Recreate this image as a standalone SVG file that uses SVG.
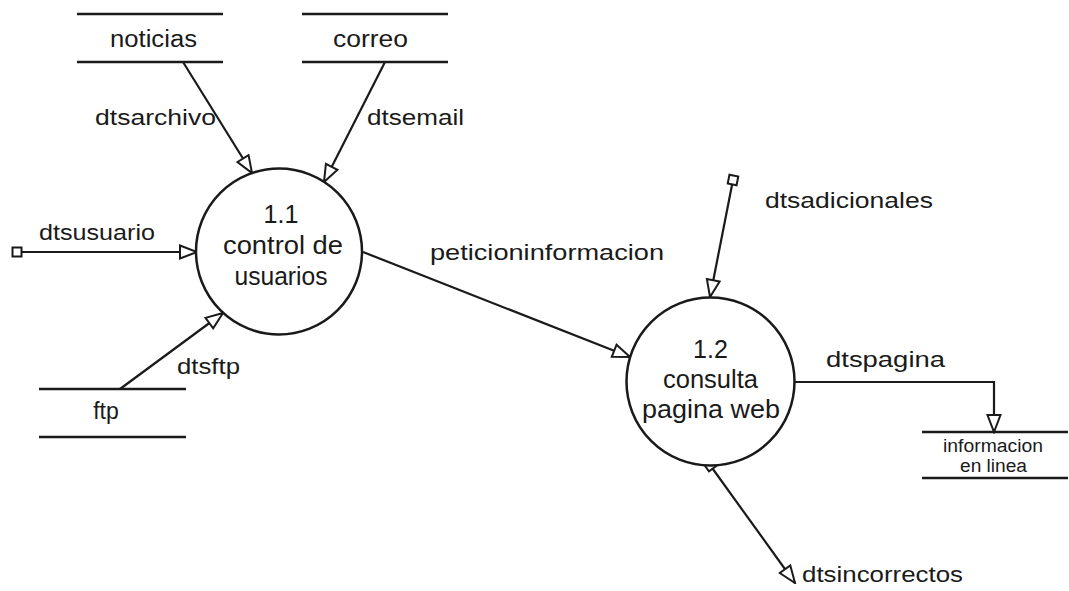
<svg xmlns="http://www.w3.org/2000/svg" width="1069" height="591" viewBox="0 0 1069 591">
<style>
text{font-family:"Liberation Sans",Arial,sans-serif;fill:#1a1a1a}
.lbl{font-size:22px}
.proc{font-size:25px;text-anchor:middle}
.st{font-size:23px;text-anchor:middle}
.sm{font-size:18px;text-anchor:middle}
.flow{fill:none;stroke:#1a1a1a;stroke-width:2.2}
.bub{fill:#fff;stroke:#1a1a1a;stroke-width:2.5}
.store{stroke:#1a1a1a;stroke-width:2.6}
</style>
<defs>
<marker id="arr" viewBox="0 0 20 16" refX="18.5" refY="8" markerWidth="20" markerHeight="16" markerUnits="userSpaceOnUse" orient="auto">
<path d="M1.5,1.5 L18.5,8 L1.5,14.5 Z" fill="#fff" stroke="#1a1a1a" stroke-width="2"/>
</marker>
<marker id="sq" viewBox="0 0 12 12" refX="6" refY="6" markerWidth="12" markerHeight="12" markerUnits="userSpaceOnUse" orient="auto">
<rect x="1.5" y="1.5" width="9" height="9" fill="#fff" stroke="#1a1a1a" stroke-width="2"/>
</marker>
</defs>
<rect width="1069" height="591" fill="#fff"/>

<g id="connectors">
<line class="flow" x1="183" y1="62" x2="252" y2="173" marker-end="url(#arr)"/>
<line class="flow" x1="385" y1="62" x2="324" y2="182" marker-end="url(#arr)"/>
<line class="flow" x1="17" y1="252" x2="197" y2="252" marker-start="url(#sq)" marker-end="url(#arr)"/>
<line class="flow" x1="120" y1="389" x2="223" y2="313" marker-end="url(#arr)"/>
<line class="flow" x1="363" y1="252" x2="630" y2="357" marker-end="url(#arr)"/>
<line class="flow" x1="733" y1="180" x2="710" y2="297" marker-start="url(#sq)" marker-end="url(#arr)"/>
<polyline class="flow" points="794,382 994,382 994,432" marker-end="url(#arr)"/>
<line class="flow" x1="710" y1="465" x2="795" y2="583" marker-start="url(#sq)" marker-end="url(#arr)"/>
<text class="lbl" x="95" y="125" textLength="121" lengthAdjust="spacingAndGlyphs">dtsarchivo</text>
<text class="lbl" x="367" y="125" textLength="97" lengthAdjust="spacingAndGlyphs">dtsemail</text>
<text class="lbl" x="39" y="240" textLength="116" lengthAdjust="spacingAndGlyphs">dtsusuario</text>
<text class="lbl" x="177" y="374" textLength="63" lengthAdjust="spacingAndGlyphs">dtsftp</text>
<text class="lbl" x="430" y="260" textLength="234" lengthAdjust="spacingAndGlyphs">peticioninformacion</text>
<text class="lbl" x="765" y="208" textLength="168" lengthAdjust="spacingAndGlyphs">dtsadicionales</text>
<text class="lbl" x="826" y="367" textLength="119" lengthAdjust="spacingAndGlyphs">dtspagina</text>
<text class="lbl" x="802" y="582" textLength="161" lengthAdjust="spacingAndGlyphs">dtsincorrectos</text>
</g>

<g id="store-noticias">
<line class="store" x1="77" y1="14" x2="223" y2="14"/>
<line class="store" x1="77" y1="62" x2="223" y2="62"/>
<text class="st" x="153.5" y="47" textLength="87" lengthAdjust="spacingAndGlyphs">noticias</text>
</g>
<g id="store-correo">
<line class="store" x1="302" y1="14" x2="448" y2="14"/>
<line class="store" x1="302" y1="62" x2="448" y2="62"/>
<text class="st" x="370.5" y="47" textLength="75" lengthAdjust="spacingAndGlyphs">correo</text>
</g>
<g id="store-ftp">
<line class="store" x1="39" y1="389" x2="186" y2="389"/>
<line class="store" x1="39" y1="437" x2="186" y2="437"/>
<text class="st" x="106" y="419">ftp</text>
</g>
<g id="store-informacion">
<line class="store" x1="922" y1="432" x2="1068" y2="432"/>
<line class="store" x1="922" y1="478" x2="1068" y2="478"/>
<text class="sm" x="993" y="452" textLength="100" lengthAdjust="spacingAndGlyphs">informacion</text>
<text class="sm" x="993.5" y="472" textLength="67" lengthAdjust="spacingAndGlyphs">en linea</text>
</g>

<g id="proc-1-1">
<circle class="bub" cx="279" cy="251.5" r="83"/>
<text class="proc" x="281" y="223">1.1</text>
<text class="proc" x="283" y="254" textLength="120" lengthAdjust="spacingAndGlyphs">control de</text>
<text class="proc" x="281" y="285" textLength="93" lengthAdjust="spacingAndGlyphs">usuarios</text>
</g>
<g id="proc-1-2">
<circle class="bub" cx="710.5" cy="381.5" r="84"/>
<text class="proc" x="710.5" y="358">1.2</text>
<text class="proc" x="710.5" y="388" textLength="95" lengthAdjust="spacingAndGlyphs">consulta</text>
<text class="proc" x="711" y="418" textLength="138" lengthAdjust="spacingAndGlyphs">pagina web</text>
</g>
</svg>
